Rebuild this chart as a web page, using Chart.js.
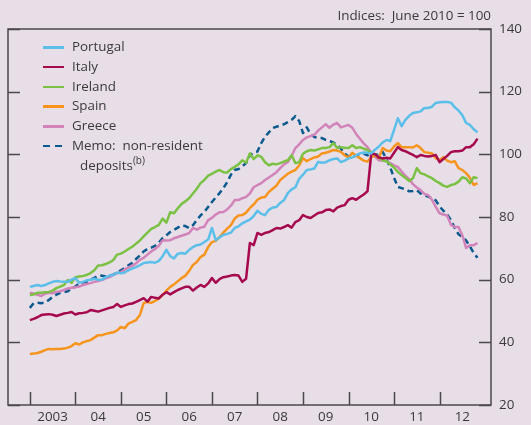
<!DOCTYPE html>
<html><head><meta charset="utf-8">
<script src="https://cdn.jsdelivr.net/npm/chart.js@4/dist/chart.umd.min.js"></script>
<style>
html,body{margin:0;padding:0;background:#e7dee8;}
#wrap{position:relative;width:531px;height:425px;font-family:"Open Sans",sans-serif;color:#3a3a3a;overflow:hidden;}
canvas{position:absolute;left:0;top:0;}
#title{position:absolute;right:40px;top:6px;font-size:13.4px;white-space:pre;line-height:18px;}
#legend{position:absolute;left:43px;top:37px;font-size:13.4px;}
.it{position:relative;height:19.8px;line-height:19.8px;white-space:pre;}
.sw{position:absolute;left:0;top:9px;width:21px;height:2.5px;}
.tx{position:absolute;left:29px;top:0;}
.sub{position:absolute;left:37px;top:0;white-space:pre;}
sup{font-size:10px;line-height:0;vertical-align:6px;}
</style>
</head><body>
<div id="wrap">
<canvas id="c" width="531" height="425"></canvas>
<div id="title">Indices:  June 2010 = 100</div>
<div id="legend"></div>
</div>
<script>
const startYear = 2003;
const yearLabels = ['2003','04','05','06','07','08','09','10','11','12'];
const yTickValues = [20,40,60,80,100,120,140];
const seriesNames = ['Portugal','Italy','Ireland','Spain','Greece','Memo:  non-resident deposits'];

const portugal = [57.7,58,58.3,58,58.3,58.8,59.3,59.6,59.4,59.3,59.3,60,
60.5,59,59.3,59.8,60,60.3,60,60,60.8,61.3,61.5,62.3,
62,62.3,63,63.5,64,64.6,65.3,65.5,65.6,65.4,66,67.5,
69.5,67.5,66.8,68.3,68.5,68.3,69.5,70.4,71,71.2,72,72.8,
76.5,72.6,73.5,74.3,74.6,75,76.5,77,78,78.6,79.2,80.3,
82,81,80.6,82.3,83,83.2,84.5,85.4,87.6,88.8,89.5,92.2,
93.5,95,95.2,95.5,97.6,97.3,97.5,98.1,98.5,98.7,97.5,98,
98.7,99,99.7,100.3,100.6,100.5,100.3,101.5,102.5,103.8,104.6,104.2,
107.8,111.5,109,111,112.3,113.2,113.4,113.7,114.8,114.8,115.2,116.4,
116.6,116.7,116.7,116.5,115,114,112.5,110,109.4,108,107];

const italy = [47.1,47.5,48,48.7,48.9,49,48.8,48.4,48.8,49.2,49.4,49.7,
48.9,49.3,49.4,49.6,50.3,50.1,49.8,50.2,50.6,51,51.3,52.2,
51.3,51.8,52.2,52.4,52.9,53.5,54.1,53,54.5,54.2,54,55.2,
56,55.3,56,56.7,57.2,57.7,57.7,56.5,57.5,58.3,57.7,58.8,
60.5,59,60.2,60.8,61,61.3,61.5,61.3,59.3,60.3,71.7,71,
74.9,74.3,74.9,75.2,75.8,76.5,76.3,76.8,77.4,76.6,78.4,79,
80.6,80,79.7,80.5,81.3,81.5,82.2,82.4,81.8,83,83.5,83.8,
85.5,86,85.5,86.4,87.2,88.2,100.3,100,99,98.7,98.9,98.7,
100.5,102.3,101.4,101,100.4,99.8,99.1,99.8,99.5,99.3,99.5,99.8,
97.5,98.5,99.5,100.7,101,101,101.2,102.3,102.3,103.2,105];

const ireland = [55.1,55.3,55.8,55.8,56,56.1,56.5,57.3,57.8,58.3,59.9,59,
60.8,61,61.2,61.5,62.1,63,64.5,64.6,65,65.5,66.3,68,
68.3,69,69.8,70.5,71.5,72.5,73.8,75,76.2,76.8,77.5,79.5,
78.2,81.5,81.2,82.8,84.2,85,86,87.5,89,90.8,91.8,93.2,
93.8,94.5,95,94.3,94.2,95.3,96,96.8,98.1,97.3,100.3,98.5,
99.7,99.2,97.5,96.5,97,96.8,97.2,97.7,98.1,99.7,97.2,97.5,
100.2,101,101.4,101.2,101.6,102,102,102.3,103.6,102,102.3,102.1,
102,102.9,102,102.3,101.8,101.4,100.5,100,99,98.1,97.8,96.8,
95.8,94.4,93.4,92.5,91.5,92.4,95.6,94,93.6,93,92.4,91.5,
90.8,90,89.6,90.2,90.5,91.3,92.7,92.3,90.8,92.7,92.4];

const spain = [36.3,36.4,36.6,37,37.5,37.9,37.8,37.9,37.9,38,38.3,38.8,
39.7,39.3,40,40.4,40.7,41.5,42.3,42.3,42.7,43,43.2,43.8,
44.9,44.5,46,46.5,47.1,48.7,52.5,52.9,52.6,53.2,54,55.1,
56.5,57.7,58.5,59.5,60.5,61.3,62.8,64.7,65.6,67.2,68,70.4,
72,72.4,73.6,75,76.3,77.4,79.5,80.5,80.6,81.4,82.9,84,
85.5,86.2,86.4,88,89,90,91.8,92.8,93.8,94.5,95,96.5,
98.8,97.8,98.5,99,99.3,100.3,100.5,100.9,101.4,101.2,100.8,99.7,
99,100.5,99.5,98.8,98,97.7,99,99.7,98.8,102,101.2,101,
102.5,103.6,102.3,102.3,102.3,102.2,102.9,102,100.7,100.5,100.3,98.8,
98.1,99.1,98,97.5,97.8,95.6,95,94,92.5,90.2,90.8];

const greece = [55.8,55.6,55.2,54.8,55.5,55.8,55.7,56.1,56.3,56.7,57.2,57.4,
57.6,57.8,58.3,58.6,58.9,59.3,59.6,59.9,60.4,60.8,61.5,62,
62.4,63.2,63.9,64.4,65.2,66.3,67,68,69,69.8,70.8,72.6,
72.5,72.6,73.2,73.6,74,74.4,74.9,76.5,76,76.6,76.9,79,
79.7,80.8,81.5,81.6,82.4,83.6,85.4,85.4,86,86.4,87.5,89.5,
90.2,90.8,91.8,92.6,93.4,94.3,95.6,96.8,97.5,99.5,102,103.2,
104.6,105.4,105.8,106.2,107.6,108.6,109.6,108.5,109.5,110,108.6,109,
109.4,108.5,106.5,105,103.5,102.3,100.5,99.2,98.1,98,97.8,97.2,
96.5,96,94.5,93.2,92,90.5,89.4,88.6,87.4,87,85.5,83.2,
81.2,80.8,80.5,77.5,76.8,76.8,74.2,70.1,71,71,71.7];

const memoDeposits = [51,52.5,52.6,52.5,52.7,53.5,54.5,55.2,55.8,56,56.3,57.2,
57.8,58.8,59.1,59.3,60,60.6,61.2,61.3,61,61.3,61.6,62.3,
63,63.7,64.6,65.4,66.6,67.7,69,69.8,70.2,70.8,71.8,73.3,
74.2,75.2,75.9,76.6,77.3,77.1,76.5,77.4,79,80.5,81.6,83.2,
84.8,86.2,87.6,89.2,91.1,93.5,95,95.3,96.2,97.2,99.7,100.5,
100.9,103.6,105.6,107,108.4,108.8,109.2,109.6,110.3,111,112.2,110.6,
106.8,108.6,106.5,105.5,105.3,105.2,104.6,104.2,103.8,103,101.8,100.2,
99.3,99,99.7,99.9,100.2,99.7,100.2,100,99.8,100.8,98.5,95.8,
92.5,89.6,89.2,88.8,88.2,88.3,88.6,87.5,87.1,86.5,86,85.3,
83.4,82,80.8,79,76.5,74.5,73.6,72.5,70.6,68.5,67];

const colors = ['#5bbfea','#a6094d','#7bc143','#f7941e','#d283b9','#0b5a8e'];
const seriesValues = [portugal, italy, ireland, spain, greece, memoDeposits];

const toPoints = arr => arr.map((v,i)=>({x:startYear + i/12, y:v}));

const datasets = seriesValues.map((vals,k)=>({
  label: seriesNames[k],
  data: toPoints(vals),
  borderColor: colors[k],
  backgroundColor: colors[k],
  borderWidth: 2.5,
  borderDash: k===5 ? [6,4] : [],
  pointRadius: 0,
  tension: 0,
  fill: false,
  borderJoinStyle: 'round'
}));

// HTML legend
const lg = document.getElementById('legend');
seriesNames.forEach((n,k)=>{
  const it = document.createElement('div'); it.className='it';
  const sw = document.createElement('div'); sw.className='sw';
  sw.style.background = k===5 ? `repeating-linear-gradient(to right, ${colors[k]} 0 7px, transparent 7px 12px)` : colors[k];
  const tx = document.createElement('div'); tx.className='tx';
  tx.textContent = k===5 ? 'Memo:  non-resident' : n;
  it.appendChild(sw); it.appendChild(tx); lg.appendChild(it);
  if(k===5){
    const it2 = document.createElement('div'); it2.className='it';
    const s2 = document.createElement('div'); s2.className='sub';
    s2.innerHTML = 'deposits<sup>(b)</sup>';
    it2.appendChild(s2); lg.appendChild(it2);
  }
});

const frame = {
  id:'frame',
  beforeDatasetsDraw(chart){
    const {ctx, chartArea:a, scales:{x,y}} = chart;
    ctx.save();
    ctx.strokeStyle = '#4a4a4a';
    ctx.lineWidth = 1.5;
    ctx.strokeRect(a.left, a.top, a.right-a.left, a.bottom-a.top);
    ctx.beginPath();
    yearLabels.forEach((l,k)=>{
      const px = Math.round(x.getPixelForValue(startYear+k))+0.5;
      ctx.moveTo(px, a.bottom); ctx.lineTo(px, a.bottom-13);
    });
    yTickValues.forEach(v=>{
      const py = Math.round(y.getPixelForValue(v))+0.5;
      ctx.moveTo(a.left, py); ctx.lineTo(a.left+12, py);
      ctx.moveTo(a.right, py); ctx.lineTo(a.right-12, py);
    });
    ctx.stroke();
    ctx.restore();
  }
};

new Chart(document.getElementById('c'), {
  type:'line',
  data:{datasets},
  options:{
    responsive:false,
    animation:false,
    events:[],
    layout:{padding:{top:29,left:8,right:0,bottom:0}},
    plugins:{legend:{display:false}, tooltip:{enabled:false}},
    scales:{
      x:{
        type:'linear', min:2002.52, max:2013.13,
        grid:{display:false, drawTicks:false}, border:{display:false},
        afterBuildTicks:s=>{ s.ticks = yearLabels.map((l,k)=>({value:startYear+k+0.5})); },
        afterFit:s=>{ s.height = 20; },
        ticks:{
          autoSkip:false, maxRotation:0, padding:4,
          color:'#3a3a3a', font:{family:'"Open Sans", sans-serif', size:13.4},
          callback:(v)=> yearLabels[Math.round(v-0.5-startYear)]
        }
      },
      y:{
        position:'right', min:20, max:140,
        grid:{display:false, drawTicks:false}, border:{display:false},
        afterBuildTicks:s=>{ s.ticks = yTickValues.map(v=>({value:v})); },
        afterFit:s=>{ s.width = 40; },
        ticks:{
          padding:8, color:'#3a3a3a', font:{family:'"Open Sans", sans-serif', size:13.4}
        }
      }
    }
  },
  plugins:[frame]
});
</script>
</body></html>
